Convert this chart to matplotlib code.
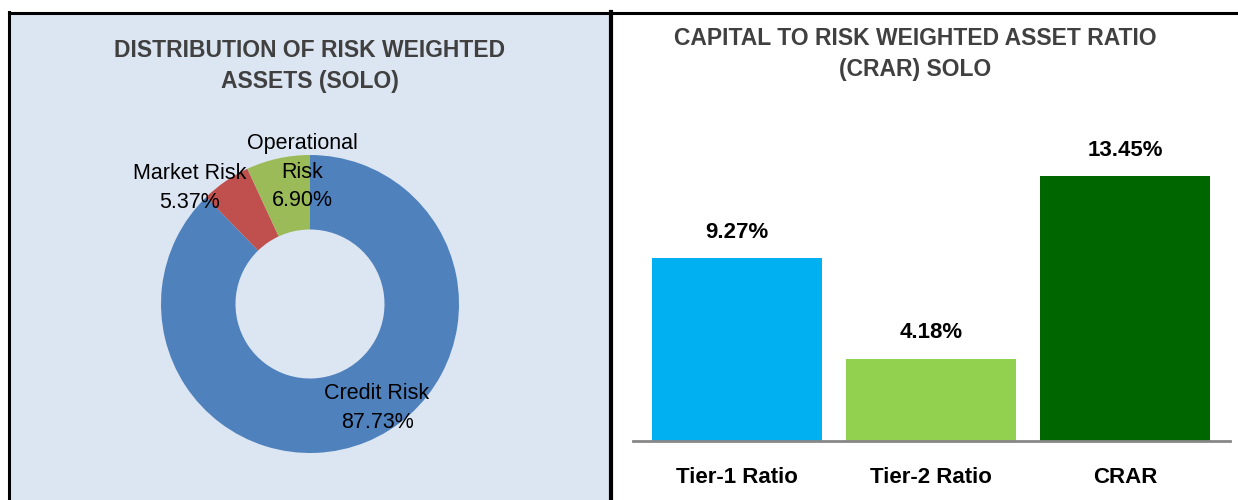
import matplotlib
matplotlib.use("Agg")
import matplotlib.pyplot as plt
from matplotlib.patches import Rectangle
from matplotlib.lines import Line2D
from matplotlib import font_manager

# ---- data ----
pie_labels = ["Credit Risk", "Market Risk", "Operational\nRisk"]
pie_values = [87.73, 5.37, 6.90]
pie_colors = ["#4F81BD", "#C0504D", "#9BBB59"]

bar_categories = ["Tier-1 Ratio", "Tier-2 Ratio", "CRAR"]
bar_values = [9.27, 4.18, 13.45]
bar_colors = ["#00B0F0", "#92D050", "#006600"]

left_title = "DISTRIBUTION OF RISK WEIGHTED\nASSETS (SOLO)"
right_title = "CAPITAL TO RISK WEIGHTED ASSET RATIO\n(CRAR) SOLO"

names = {f.name for f in font_manager.fontManager.ttflist}
narrow = "Liberation Sans Narrow" if "Liberation Sans Narrow" in names else "Liberation Sans"
plt.rcParams['font.family'] = [narrow, 'DejaVu Sans']

W, H = 1238, 500
fig = plt.figure(figsize=(W / 100, H / 100), dpi=100)
fig.patch.set_facecolor("white")

def px(x0, y0, x1, y1):
    return [x0 / W, 1 - y1 / H, (x1 - x0) / W, (y1 - y0) / H]

# panel backgrounds
bg = fig.add_axes([0, 0, 1, 1])
bg.set_xlim(0, W); bg.set_ylim(H, 0); bg.axis("off")
bg.add_patch(Rectangle((9, 12), 602, 500, facecolor="#DCE6F2", edgecolor="none"))
bg.add_line(Line2D([9, 9], [12, 500], color="black", lw=2.2))
bg.add_line(Line2D([9, 1238], [12.5, 12.5], color="black", lw=2.2))
bg.add_line(Line2D([611, 611], [12, 500], color="black", lw=3))

bg.text(310, 66, left_title, ha="center", va="center", fontsize=16.5,
        fontweight="bold", color="#404040", linespacing=1.45)
bg.text(915, 54, right_title, ha="center", va="center", fontsize=16.5,
        fontweight="bold", color="#404040", linespacing=1.45)

# ---- donut ----
cx, cy, r = 310, 304, 149
size = 340
pax = fig.add_axes(px(cx - size / 2, cy - size / 2, cx + size / 2, cy + size / 2))
R = size / (2 * r)
pax.pie(pie_values, colors=pie_colors, startangle=90, counterclock=False,
        radius=1, wedgeprops=dict(width=0.5, edgecolor="none"))
pax.set_xlim(-R, R); pax.set_ylim(-R, R); pax.set_aspect("equal")
pax.axis("off")

def d(pxx, pyy):
    return ((pxx - cx) / r, (cy - pyy) / r)

label_pos = [d(377, 408), d(190, 188), d(302, 172)]
for lab, val, (tx, ty) in zip(pie_labels, pie_values, label_pos):
    pax.text(tx, ty, f"{lab}\n{val:.2f}%", ha="center", va="center",
             fontsize=15.5, color="black", linespacing=1.45)

# ---- bars ----
x0, x1, base, top = 633, 1230, 441, 130
bax = fig.add_axes(px(x0, top, x1, base))
xs = list(range(len(bar_categories)))
bax.bar(xs, bar_values, width=0.876, color=bar_colors)
unit = 194
bax.set_xlim(-(737 - x0) / unit, 2 + (x1 - 1125) / unit)
bax.set_ylim(0, (base - top) / 19.7)
for s in ["top", "right", "left"]:
    bax.spines[s].set_visible(False)
bax.spines["bottom"].set_color("#888888")
bax.spines["bottom"].set_linewidth(2)
bax.set_yticks([])
bax.set_xticks(xs)
bax.set_xticklabels(bar_categories, fontsize=16, fontweight="bold")
bax.tick_params(axis="x", length=0, pad=19)
bax.patch.set_alpha(0)
for xi, v in zip(xs, bar_values):
    bax.annotate(f"{v:.2f}%", (xi, v), xytext=(0, 11), textcoords="offset points",
                 ha="center", va="bottom", fontsize=16, fontweight="bold")

fig.savefig("out.png", dpi=100)
